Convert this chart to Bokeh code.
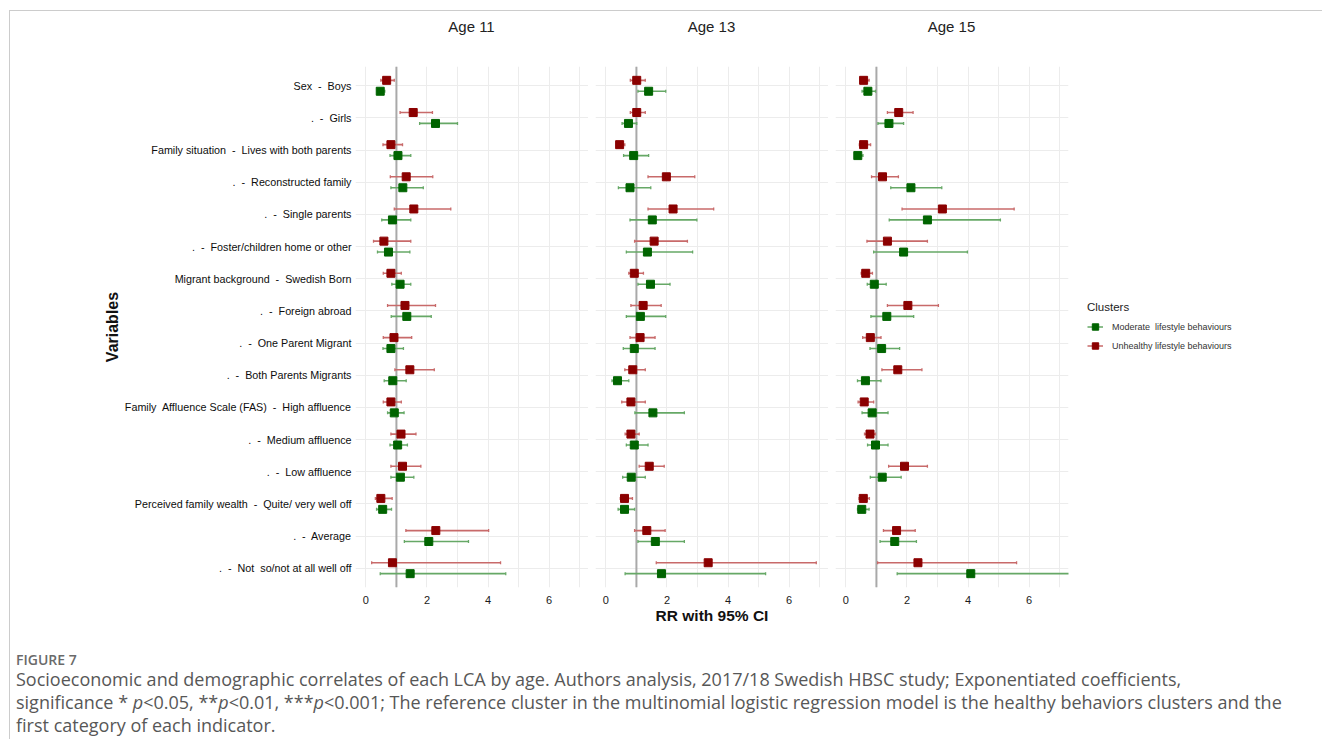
import numpy as np
from bokeh.plotting import figure
from bokeh.models import (ColumnDataSource, Range1d, FactorRange, FixedTicker,
                          Span, Legend, LegendItem, Div)
from bokeh.layouts import row, column
from bokeh.transform import dodge
from bokeh.embed import file_html
from bokeh.resources import INLINE

NB = "\u00a0"  # keeps the doubled gaps in the labels

# Row labels, top to bottom
variables = [
    f"Sex{NB} -{NB} Boys",
    f".{NB} -{NB} Girls",
    f"Family situation{NB} -{NB} Lives with both parents",
    f".{NB} -{NB} Reconstructed family",
    f".{NB} -{NB} Single parents",
    f".{NB} -{NB} Foster/children home or other",
    f"Migrant background{NB} -{NB} Swedish Born",
    f".{NB} -{NB} Foreign abroad",
    f".{NB} -{NB} One Parent Migrant",
    f".{NB} -{NB} Both Parents Migrants",
    f"Family{NB} Affluence Scale (FAS){NB} -{NB} High affluence",
    f".{NB} -{NB} Medium affluence",
    f".{NB} -{NB} Low affluence",
    f"Perceived family wealth{NB} -{NB} Quite/ very well off",
    f".{NB} -{NB} Average",
    f".{NB} -{NB} Not{NB} so/not at all well off",
]

panel_titles = ["Age 11", "Age 13", "Age 15"]
cluster_labels = [f"Moderate{NB} lifestyle behaviours", "Unhealthy lifestyle behaviours"]
x_tick_values = [0, 2, 4, 6]

# Age 11 - moderate lifestyle behaviours (RR, lower, upper)
age11_mod_rr = [0.47, 2.28, 1.05, 1.21, 0.87, 0.74, 1.12, 1.34, 0.82, 0.88, 0.93, 1.04, 1.13, 0.55, 2.06, 1.45]
age11_mod_lo = [0.38, 1.76, 0.79, 0.82, 0.52, 0.38, 0.85, 0.83, 0.56, 0.60, 0.71, 0.79, 0.82, 0.35, 1.26, 0.47]
age11_mod_hi = [0.62, 3.00, 1.47, 1.88, 1.47, 1.44, 1.47, 2.14, 1.23, 1.32, 1.25, 1.36, 1.57, 0.84, 3.36, 4.58]
# Age 11 - unhealthy lifestyle behaviours
age11_unh_rr = [0.68, 1.55, 0.82, 1.32, 1.57, 0.59, 0.82, 1.28, 0.92, 1.44, 0.82, 1.15, 1.20, 0.49, 2.29, 0.87]
age11_unh_lo = [0.49, 1.12, 0.56, 0.80, 0.93, 0.25, 0.57, 0.71, 0.57, 0.95, 0.57, 0.82, 0.82, 0.31, 1.31, 0.19]
age11_unh_hi = [0.93, 2.18, 1.20, 2.19, 2.78, 1.47, 1.16, 2.28, 1.50, 2.24, 1.16, 1.64, 1.80, 0.86, 4.02, 4.41]

# Age 13 - moderate lifestyle behaviours
age13_mod_rr = [1.40, 0.74, 0.91, 0.79, 1.52, 1.36, 1.46, 1.13, 0.93, 0.38, 1.54, 0.93, 0.83, 0.61, 1.62, 1.82]
age13_mod_lo = [1.05, 0.53, 0.58, 0.41, 0.79, 0.67, 1.05, 0.67, 0.57, 0.20, 0.95, 0.67, 0.55, 0.40, 1.05, 0.63]
age13_mod_hi = [1.96, 1.01, 1.40, 1.47, 2.98, 2.84, 2.10, 1.96, 1.61, 0.75, 2.57, 1.38, 1.29, 0.94, 2.57, 5.23]
# Age 13 - unhealthy lifestyle behaviours
age13_unh_rr = [1.01, 1.01, 0.45, 1.98, 2.20, 1.58, 0.93, 1.22, 1.12, 0.88, 0.82, 0.82, 1.42, 0.61, 1.34, 3.35]
age13_unh_lo = [0.80, 0.80, 0.35, 1.38, 1.38, 0.94, 0.75, 0.82, 0.79, 0.62, 0.52, 0.63, 1.09, 0.47, 0.94, 1.65]
age13_unh_hi = [1.29, 1.29, 0.62, 2.91, 3.53, 2.67, 1.23, 1.81, 1.61, 1.29, 1.29, 1.09, 1.91, 0.87, 1.94, 6.89]

# Age 15 - moderate lifestyle behaviours
age15_mod_rr = [0.72, 1.41, 0.39, 2.13, 2.67, 1.89, 0.93, 1.34, 1.17, 0.64, 0.86, 0.97, 1.19, 0.52, 1.60, 4.09]
age15_mod_lo = [0.53, 1.05, 0.29, 1.47, 1.42, 0.91, 0.70, 0.82, 0.79, 0.38, 0.53, 0.71, 0.80, 0.38, 1.12, 1.68]
age15_mod_hi = [0.97, 1.89, 0.56, 3.14, 5.06, 3.98, 1.32, 2.22, 1.76, 1.15, 1.38, 1.38, 1.81, 0.76, 2.31, 7.45]
# Age 15 - unhealthy lifestyle behaviours
age15_unh_rr = [0.58, 1.73, 0.58, 1.20, 3.16, 1.36, 0.65, 2.03, 0.80, 1.70, 0.60, 0.79, 1.92, 0.57, 1.66, 2.36]
age15_unh_lo = [0.47, 1.36, 0.44, 0.84, 1.84, 0.69, 0.50, 1.36, 0.55, 1.18, 0.40, 0.61, 1.40, 0.43, 1.23, 1.04]
age15_unh_hi = [0.76, 2.20, 0.81, 1.72, 5.51, 2.67, 0.87, 3.03, 1.15, 2.49, 0.91, 0.97, 2.67, 0.77, 2.27, 5.59]

panel_data = [
    ((age11_mod_rr, age11_mod_lo, age11_mod_hi), (age11_unh_rr, age11_unh_lo, age11_unh_hi)),
    ((age13_mod_rr, age13_mod_lo, age13_mod_hi), (age13_unh_rr, age13_unh_lo, age13_unh_hi)),
    ((age15_mod_rr, age15_mod_lo, age15_mod_hi), (age15_unh_rr, age15_unh_lo, age15_unh_hi)),
]

# styling
MOD_DARK, MOD_LIGHT = "#006400", "#66a866"
UNH_DARK, UNH_LIGHT = "#8b0000", "#c86a6a"
GRID = "#ececec"
LABEL_FONT = "Liberation Sans"
FRAME_W, FRAME_H = 233, 521
BORDER_LEFT = [345, 7, 7]
BORDER_RIGHT = [0, 0, 244]
SHIFT = 0.17  # vertical dodge between the two clusters


def make_panel(idx):
    mod, unh = panel_data[idx]
    first, last = idx == 0, idx == 2

    yr = FactorRange(factors=variables[::-1], range_padding=0.1,
                     range_padding_units="absolute")
    p = figure(
        x_range=Range1d(-0.34, 7.29), y_range=yr,
        frame_width=FRAME_W, frame_height=FRAME_H,
        min_border_left=BORDER_LEFT[idx], min_border_right=BORDER_RIGHT[idx],
        min_border_top=25, min_border_bottom=42,
        y_axis_location="left" if first else None,
        output_backend="svg", toolbar_location=None,
        background_fill_color="white", border_fill_color="white",
    )
    p.outline_line_color = None

    # x axis
    p.xaxis.ticker = FixedTicker(ticks=x_tick_values)
    p.xaxis.axis_line_color = None
    p.xaxis.major_tick_line_color = None
    p.xaxis.minor_tick_line_color = None
    p.xaxis.major_tick_out = 0
    p.xaxis.major_tick_in = 0
    p.xaxis.major_label_standoff = 8
    p.xaxis.major_label_text_font = LABEL_FONT
    p.xaxis.major_label_text_font_size = "11px"
    p.xaxis.major_label_text_color = "#1a1a1a"
    if idx == 1:
        p.xaxis.axis_label = "RR with 95% CI"
        p.xaxis.axis_label_text_font = LABEL_FONT
        p.xaxis.axis_label_text_font_size = "15.5px"
        p.xaxis.axis_label_text_font_style = "bold"
        p.xaxis.axis_label_text_color = "#111111"
        p.xaxis.axis_label_standoff = 0

    # y axis (first panel only)
    if first:
        p.yaxis.axis_line_color = None
        p.yaxis.major_tick_line_color = None
        p.yaxis.major_tick_out = 0
        p.yaxis.major_tick_in = 0
        p.yaxis.major_label_standoff = 4
        p.yaxis.major_label_text_font = LABEL_FONT
        p.yaxis.major_label_text_font_size = "10.75px"
        p.yaxis.major_label_text_color = "#0d0d0d"
        p.yaxis.axis_label = "Variables"
        p.yaxis.axis_label_text_font = LABEL_FONT
        p.yaxis.axis_label_text_font_size = "16px"
        p.yaxis.axis_label_text_font_style = "bold"
        p.yaxis.axis_label_text_color = "#111111"
        p.yaxis.axis_label_standoff = 1

    # grids
    p.xgrid.ticker = FixedTicker(ticks=list(range(8)))
    p.xgrid.grid_line_color = GRID
    p.ygrid.grid_line_color = GRID

    # reference line at RR = 1
    p.add_layout(Span(location=1, dimension="height", line_color="#a9a9a9",
                      line_width=2, level="underlay"))

    renderers = {}
    for key, (rr, lo, hi), dark, light, off in (
        ("mod", mod, MOD_DARK, MOD_LIGHT, -SHIFT),
        ("unh", unh, UNH_DARK, UNH_LIGHT, SHIFT),
    ):
        src = ColumnDataSource(dict(var=variables, rr=rr, lo=lo, hi=hi))
        ypos = dodge("var", off, range=yr)
        seg = p.segment(x0="lo", y0=ypos, x1="hi", y1=ypos, source=src,
                        line_color=light, line_width=1.6)
        for end in ("lo", "hi"):
            p.scatter(x=end, y=ypos, source=src, marker="dash", angle=np.pi / 2,
                      size=3, line_color=light, line_width=1.3)
        sq = p.scatter(x="rr", y=ypos, source=src, marker="square", size=8,
                       fill_color=dark, line_color=dark, line_width=1)
        renderers[key] = (seg, sq)

    if last:
        legend = Legend(
            items=[LegendItem(label=cluster_labels[0], renderers=list(renderers["mod"])),
                   LegendItem(label=cluster_labels[1], renderers=list(renderers["unh"]))],
            title="Clusters", location="center_left",
            padding=0, margin=19, spacing=3,
            glyph_width=16, glyph_height=16, label_height=16,
            label_standoff=9, title_standoff=6,
            border_line_alpha=0, background_fill_alpha=0,
        )
        legend.title_text_font = LABEL_FONT
        legend.title_text_font_size = "11.5px"
        legend.title_text_font_style = "normal"
        legend.title_text_color = "#222222"
        legend.label_text_font = LABEL_FONT
        legend.label_text_font_size = "9px"
        legend.label_text_color = "#333333"
        p.add_layout(legend, "right")
    return p


panels = [make_panel(i) for i in range(3)]

# panel headings, centred over each plotting area
headings = []
for i, t in enumerate(panel_titles):
    w = BORDER_LEFT[i] + FRAME_W + BORDER_RIGHT[i]
    headings.append(Div(
        text=(f"<div style=\"margin-left:{BORDER_LEFT[i]}px;width:{FRAME_W}px;"
              f"text-align:center;font-family:'{LABEL_FONT}';font-size:15px;"
              f"line-height:32px;color:#222222;white-space:nowrap;\">{t}</div>"),
        width=w, height=30, margin=0,
    ))

caption = Div(
    text=(
        "<div style=\"font-family:'Open Sans';margin:23px 0 0 6px;color:#575757;white-space:nowrap;\">"
        "<div style=\"font-size:14px;font-weight:600;line-height:16px;color:#6a6a6a;\">FIGURE 7</div>"
        "<div style=\"font-size:18px;line-height:23px;\">"
        "Socioeconomic and demographic correlates of each LCA by age. Authors analysis, 2017/18 Swedish HBSC study; Exponentiated coefficients,<br>"
        "significance * <i>p</i>&lt;0.05, **<i>p</i>&lt;0.01, ***<i>p</i>&lt;0.001; The reference cluster in the multinomial logistic regression model is the healthy behaviors clusters and the<br>"
        "first category of each indicator.</div></div>"
    ),
    width=1300, height=110, margin=0,
)

layout = column(
    row(*headings),
    row(*panels),
    caption,
    styles={"margin-left": "9px", "margin-top": "10px",
            "border-top": "1px solid #cccccc", "border-left": "1px solid #cccccc"},
)

open("out.html", "w").write(file_html(layout, INLINE))
